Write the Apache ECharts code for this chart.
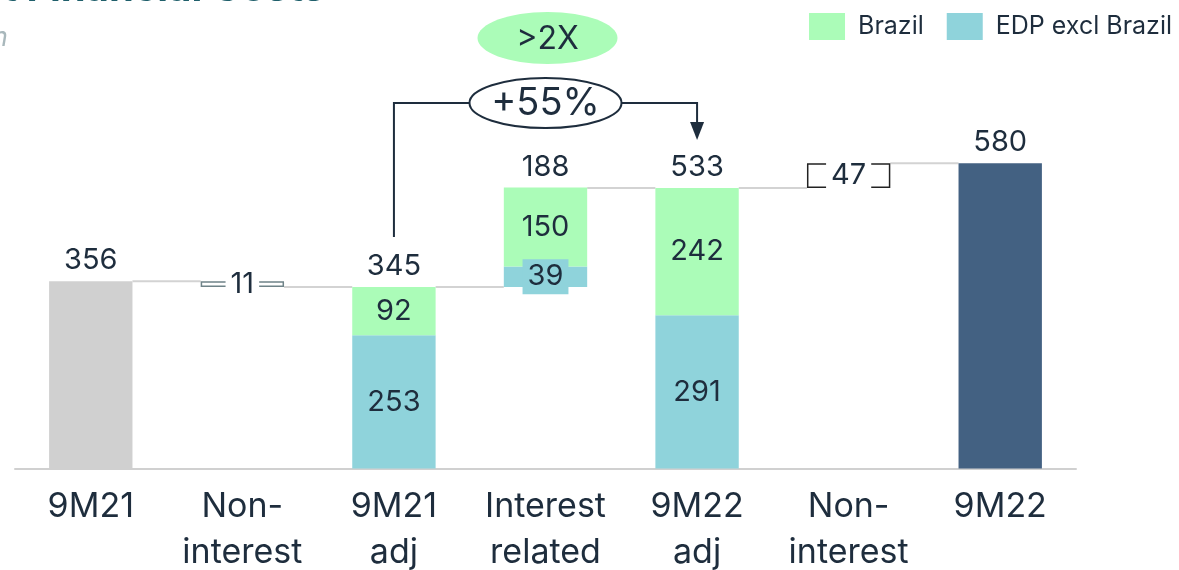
<!DOCTYPE html>
<html>
<head>
<meta charset="utf-8">
<script src="https://cdn.jsdelivr.net/npm/echarts@6/dist/echarts.min.js"></script>
<style>
  html, body { margin: 0; padding: 0; background: #fff; }
  #chart { width: 1179px; height: 570px; }
</style>
</head>
<body>
<div id="chart"></div>
<script>
const categories = ["9M21", "Non-\ninterest", "9M21\nadj", "Interest\nrelated", "9M22\nadj", "Non-\ninterest", "9M22"];
// invisible offset under floating bars
const baseVals = [0, 345, 0, 345, 0, 533, 0];
const totalVals = [356, "-", "-", "-", "-", "-", 580];
const deltaVals = ["-", 11, "-", "-", "-", 47, "-"];
const edpExclBrazil = ["-", "-", 253, 39, 291, "-", "-"];
const brazil = ["-", "-", 92, 150, 242, "-", "-"];
const topLevels = [356, "-", 345, 533, 533, "-", 580];
const topLabels = ["356", "", "345", "188", "533", "", "580"];
// level each bar ends at, for the connector lines
const endLevels = [356, 345, 345, 533, 533, 580];

const colors = {
  text: "#1e2d3d",
  green: "#abfcb8",
  blue: "#8fd3db",
  grey: "#d0d0d0",
  dark: "#436182",
  line: "#d3d3d3",
};
const FONT = "Inter";
const BAR_W = 0.55;
const LABEL_SIZE = 29;

const chart = echarts.init(document.getElementById("chart"));

const option = {
  animation: false,
  textStyle: { fontFamily: FONT, color: colors.text },
  legend: {
    right: 7,
    top: 13,
    padding: 0,
    itemWidth: 36,
    itemHeight: 27,
    itemGap: 23,
    icon: "rect",
    data: ["Brazil", "EDP excl Brazil"],
    textStyle: { fontSize: 25, color: colors.text, fontFamily: FONT, padding: [0, 0, 0, 8] },
  },
  grid: { left: 15, right: 103, top: 47.5, bottom: 101.5, containLabel: false, outerBoundsMode: "none" },
  xAxis: {
    type: "category",
    data: categories,
    axisTick: { show: false },
    axisLine: { lineStyle: { color: colors.grey, width: 2 } },
    axisLabel: {
      interval: 0,
      margin: 15,
      fontSize: 34,
      lineHeight: 46,
      color: colors.text,
      fontFamily: FONT,
    },
  },
  yAxis: { type: "value", min: 0, max: 800, show: false, splitLine: { show: false } },
  series: [
    {
      name: "base",
      type: "bar",
      stack: "w",
      barWidth: BAR_W * 100 + "%",
      itemStyle: { color: "transparent" },
      silent: true,
      data: baseVals,
    },
    {
      name: "total",
      type: "bar",
      stack: "w",
      data: totalVals.map((v, i) =>
        v === "-" ? v : { value: v, itemStyle: { color: i === 0 ? colors.grey : colors.dark } }
      ),
    },
    {
      name: "delta",
      type: "bar",
      stack: "w",
      data: deltaVals.map((v, i) =>
        v === "-"
          ? v
          : {
              value: v,
              itemStyle: {
                color: "#fff",
                borderColor: i === 1 ? "#6f8388" : "#222222",
                borderWidth: 1.5,
              },
            }
      ),
      label: {
        show: true,
        position: "inside",
        fontSize: LABEL_SIZE,
        color: colors.text,
        backgroundColor: "#fff",
        padding: [1, 5],
      },
    },
    {
      name: "EDP excl Brazil",
      type: "bar",
      stack: "w",
      itemStyle: { color: colors.blue },
      data: edpExclBrazil.map((v, i) =>
        i === 3
          ? { value: v, label: { backgroundColor: colors.blue, padding: [3, 5] } }
          : v
      ),
      label: { show: true, position: "inside", fontSize: LABEL_SIZE, color: colors.text },
    },
    {
      name: "Brazil",
      type: "bar",
      stack: "w",
      itemStyle: { color: colors.green },
      data: brazil,
      label: { show: true, position: "inside", fontSize: LABEL_SIZE, color: colors.text },
    },
    {
      name: "tops",
      type: "custom",
      silent: true,
      data: topLevels.map((v, i) => [i, v === "-" ? 0 : v]),
      renderItem(params, api) {
        const i = params.dataIndex;
        if (!topLabels[i]) return null;
        const p = api.coord([api.value(0), api.value(1)]);
        return {
          type: "text",
          x: p[0],
          y: p[1] - 6,
          style: {
            text: topLabels[i],
            font: LABEL_SIZE + "px " + FONT,
            fill: colors.text,
            textAlign: "center",
            textVerticalAlign: "bottom",
          },
        };
      },
      z: 5,
    },
    {
      name: "connectors",
      type: "custom",
      silent: true,
      data: endLevels.map((v, i) => [i, v]),
      renderItem(params, api) {
        const p = api.coord([api.value(0), api.value(1)]);
        const band = api.size([1, 0])[0];
        const half = (band * BAR_W) / 2;
        return {
          type: "line",
          shape: { x1: p[0] + half, y1: p[1], x2: p[0] + band - half, y2: p[1] },
          style: { stroke: colors.line, lineWidth: 2 },
        };
      },
      z: 1,
    },
  ],
};

chart.setOption(option);

// growth annotation between 9M21 adj and 9M22 adj
const xa = chart.convertToPixel({ gridIndex: 0 }, [2, 0])[0];
const xb = chart.convertToPixel({ gridIndex: 0 }, [4, 0])[0];
const xm = (xa + xb) / 2;
const lineY = 103;

chart.setOption({
  graphic: [
    {
      type: "text",
      x: 325,
      y: 9,
      style: {
        text: "t Financial Costs",
        font: "bold 40px " + FONT,
        fill: "#1f5f6b",
        textAlign: "right",
        textVerticalAlign: "bottom",
      },
    },
    {
      type: "text",
      x: 8,
      y: 38,
      style: {
        text: "€m",
        font: "italic 27px " + FONT,
        fill: "#a9b8bc",
        textAlign: "right",
        textVerticalAlign: "middle",
      },
    },
    {
      type: "polyline",
      shape: { points: [[xa, 237], [xa, lineY], [xb, lineY], [xb, 124]] },
      style: { stroke: colors.text, lineWidth: 2, fill: null },
      z: 10,
    },
    {
      type: "polygon",
      shape: { points: [[xb - 7, 122], [xb + 7, 122], [xb, 140]] },
      style: { fill: colors.text },
      z: 10,
    },
    {
      type: "ellipse",
      shape: { cx: xm, cy: lineY, rx: 76, ry: 25 },
      style: { fill: "#fff", stroke: colors.text, lineWidth: 2 },
      z: 11,
    },
    {
      type: "text",
      x: xm,
      y: lineY + 1,
      style: {
        text: "+55%",
        font: "38px " + FONT,
        fill: colors.text,
        textAlign: "center",
        textVerticalAlign: "middle",
      },
      z: 12,
    },
    {
      type: "ellipse",
      shape: { cx: xm + 2, cy: 38, rx: 70, ry: 26 },
      style: { fill: colors.green },
      z: 11,
    },
    {
      type: "text",
      x: xm + 2,
      y: 39,
      style: {
        text: ">2X",
        font: "32px " + FONT,
        fill: colors.text,
        textAlign: "center",
        textVerticalAlign: "middle",
      },
      z: 12,
    },
  ],
});
</script>
</body>
</html>
